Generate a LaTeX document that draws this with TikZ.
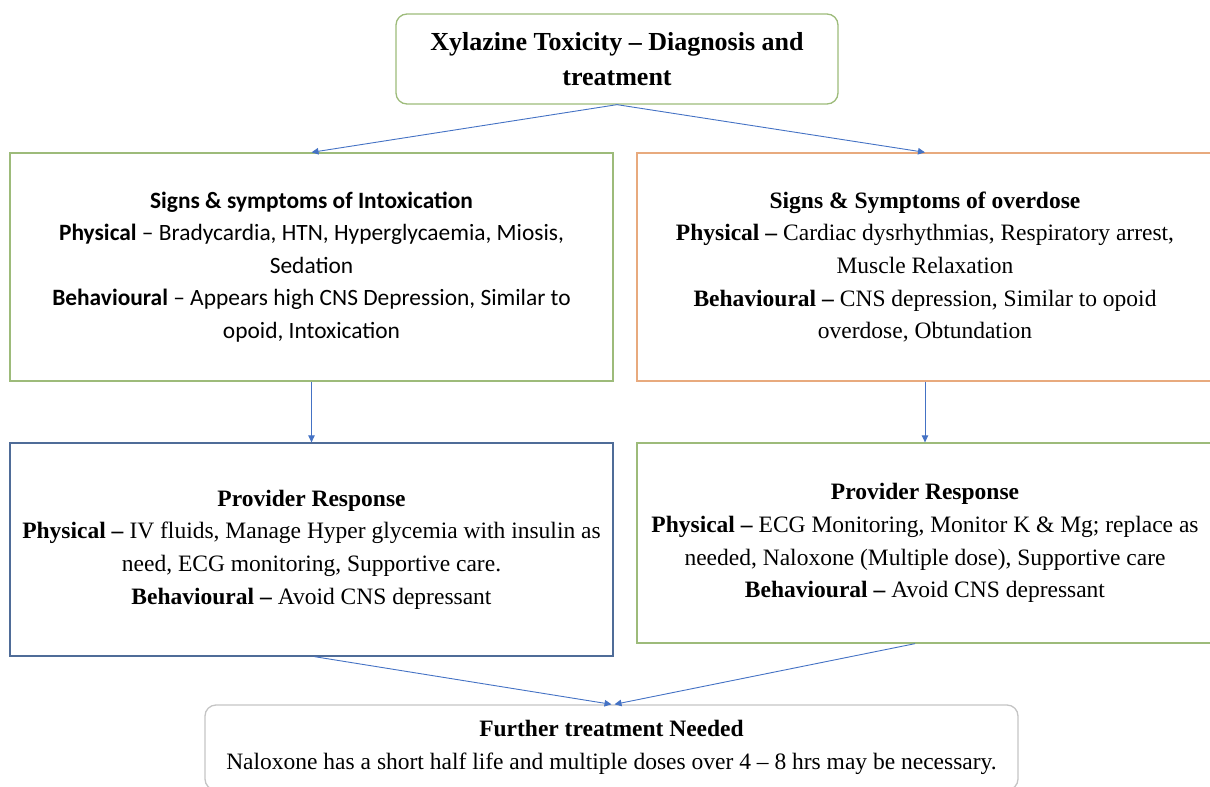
\documentclass[tikz,border=0pt]{standalone}
\usepackage{fontspec}
\setmainfont{Liberation Serif}
\newfontfamily\calibri{Carlito}
\usetikzlibrary{arrows.meta,positioning,calc}
\definecolor{boxgreen}{HTML}{9DBB7A}
\definecolor{boxorange}{HTML}{E8AA7E}
\definecolor{boxblue}{HTML}{4F6C98}
\definecolor{flowblue}{HTML}{4472C4}
\definecolor{boxgrey}{HTML}{C4C4C4}

\begin{document}
\begin{tikzpicture}[x=1pt,y=-1pt,
  font=\fontsize{23.5}{32.7}\selectfont,
  panel/.style={draw=boxgreen,line width=1.3pt,align=center,inner sep=0pt},
  heading/.style={panel,rounded corners=11pt},
  flow/.style={-{Triangle[length=7pt,width=6.5pt]},
    draw=flowblue,line width=0.9pt}]
\useasboundingbox (0,0) rectangle (1210,787);
\clip (0,0) rectangle (1210,787);

\node[heading,minimum width=442pt,minimum height=90pt,
  font=\bfseries\fontsize{26}{35}\selectfont] (title) at (617,59)
  {Xylazine Toxicity – Diagnosis and\\treatment};
\node[panel,minimum width=603pt,minimum height=228pt,
  font=\calibri\fontsize{23.4}{32.5}\selectfont] (intox) at (311.5,267)
  {\textbf{Signs \& symptoms of Intoxication}\\
   \textbf{Physical} – Bradycardia, HTN, Hyperglycaemia, Miosis,\\
   Sedation\\
   \textbf{Behavioural} – Appears high CNS Depression, Similar to\\
   opoid, Intoxication};
\node[panel,draw=boxorange,minimum width=576pt,minimum height=228pt]
  (overdose) at (925,267)
  {\textbf{Signs \& Symptoms of overdose}\\
   \textbf{Physical –} Cardiac dysrhythmias, Respiratory arrest,\\
   Muscle Relaxation\\
   \textbf{Behavioural –} CNS depression, Similar to opoid\\
   overdose, Obtundation};
\node[panel,draw=boxblue,minimum width=603pt,minimum height=213pt]
  (respintox) at (311.5,549.5)
  {\textbf{Provider Response}\\
   \textbf{Physical –} IV fluids, Manage Hyper glycemia with insulin as\\
   need, ECG monitoring, Supportive care.\\
   \textbf{Behavioural –} Avoid CNS depressant};
\node[panel,minimum width=576pt,minimum height=200pt]
  (respover) at (925,543)
  {\textbf{Provider Response}\\
   \textbf{Physical –} ECG Monitoring, Monitor K \& Mg; replace as\\
   needed, Naloxone (Multiple dose), Supportive care\\
   \textbf{Behavioural –} Avoid CNS depressant};
\node[heading,draw=boxgrey,minimum width=813pt,minimum height=85pt]
  (further) at (611.5,747.5)
  {\textbf{Further treatment Needed}\\
   Naloxone has a short half life and multiple doses over 4 – 8 hrs may be necessary.};

\draw[flow] (title.south)--(intox.north);
\draw[flow] (title.south)--(overdose.north);
\draw[flow] (intox.south)--(respintox.north);
\draw[flow] (overdose.south)--(respover.north);
\draw[flow] ([xshift=3pt]respintox.south)--(further.north);
\draw[flow] ([xshift=-10pt]respover.south)--([xshift=3pt]further.north);
\end{tikzpicture}
\end{document}
